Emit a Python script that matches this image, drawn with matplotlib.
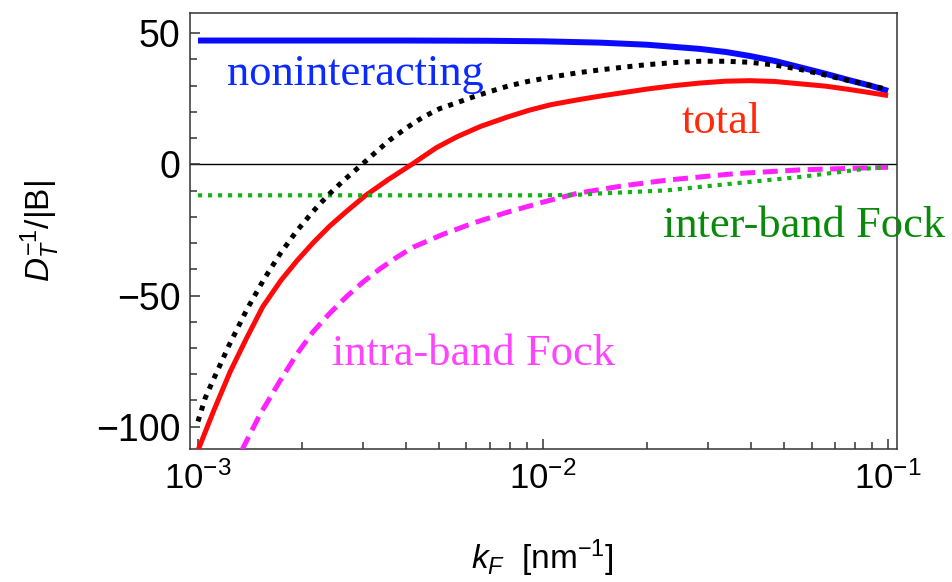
import matplotlib
matplotlib.use("Agg")
import matplotlib.pyplot as plt
from matplotlib.ticker import FixedLocator, LogLocator, NullFormatter, MultipleLocator

plt.rcParams['font.family'] = ['Liberation Sans', 'DejaVu Sans']
plt.rcParams['mathtext.fontset'] = 'custom'
plt.rcParams['mathtext.rm'] = 'Liberation Sans'
plt.rcParams['mathtext.it'] = 'Liberation Sans:italic'

# noninteracting
k_non = [0.001, 0.002, 0.004, 0.007, 0.01, 0.0146, 0.02, 0.0285, 0.034, 0.0398,
         0.047, 0.0556, 0.066, 0.0776, 0.089, 0.1]
v_non = [47.2, 47.2, 47.2, 47.1, 46.9, 46.4, 45.6, 44.0, 42.8, 41.3,
         39.4, 37.0, 34.5, 32.0, 30.0, 28.0]

# noninteracting + intra-band (black dotted)
k_blk = [0.001, 0.00105, 0.0011, 0.00123, 0.00139, 0.00155, 0.00173, 0.00193, 0.00215,
         0.00238, 0.00266, 0.00299, 0.00331, 0.0036, 0.00403, 0.00449, 0.00501, 0.00563,
         0.0063, 0.0070, 0.00794, 0.0091, 0.0105, 0.0126, 0.0146, 0.017, 0.02, 0.024,
         0.0285, 0.0339, 0.0398, 0.0468, 0.0556, 0.066, 0.0776, 0.089, 0.1]
v_blk = [-98, -89, -83, -69, -55, -44, -34.1, -25.5, -18.1,
         -11.8, -5.8, 0, 5.2, 9.3, 14.0, 18.0, 21.2, 23.5,
         25.8, 27.7, 29.9, 31.7, 33.2, 34.9, 36.0, 37.0, 38.0, 38.8,
         39.3, 39.3, 38.9, 37.9, 36.2, 34.0, 31.8, 30.1, 28.5]

# total
k_tot = [0.001, 0.00111, 0.00124, 0.00138, 0.00154, 0.00174, 0.00194, 0.00216, 0.00241,
         0.00269, 0.00305, 0.00355, 0.0042, 0.0049, 0.00563, 0.0066, 0.00787, 0.0091,
         0.0105, 0.0126, 0.0146, 0.017, 0.02, 0.024, 0.0285, 0.0339, 0.0398, 0.0468,
         0.0556, 0.066, 0.0776, 0.089, 0.1]
v_tot = [-109, -94, -79, -66.5, -54.3, -44.2, -36.6, -29.8, -23.5,
         -18, -12, -5.9, 0.3, 6.3, 10.5, 14.5, 18.0, 20.6,
         22.7, 24.6, 26.0, 27.3, 28.7, 30.0, 31.0, 31.7, 31.9, 31.6,
         30.7, 29.8, 28.5, 27.3, 26.2]

# intra-band Fock
k_intra = [0.00134, 0.00151, 0.00173, 0.00193, 0.00215, 0.0024, 0.0027, 0.003, 0.00337,
           0.00376, 0.0042, 0.0051, 0.0063, 0.0079, 0.01, 0.0126, 0.017, 0.0229,
           0.0355, 0.0556, 0.1]
v_intra = [-109, -95.5, -82.5, -72.5, -64, -57, -50.3, -45, -39.8,
           -35.5, -31.6, -26.8, -22.3, -18.2, -14.4, -11.0, -8.2, -6.0,
           -3.6, -2.1, -1.1]

# inter-band Fock
k_inter = [0.001, 0.005, 0.01, 0.0126, 0.0146, 0.017, 0.0229, 0.0356, 0.0556, 0.087, 0.1]
v_inter = [-11.8, -11.8, -11.8, -11.6, -11.1, -10.7, -9.9, -7.3, -4.8, -1.6, -1.0]

fig = plt.figure(figsize=(9.53, 5.82), dpi=100)
ax = fig.add_axes([0.1994, 0.2285, 0.7419, 0.7492])

ax.axhline(0, color='black', lw=1.0, zorder=1)
ax.plot(k_non, v_non, color='#0a0aff', lw=4.3, solid_capstyle='butt', zorder=3)
ax.plot(k_blk, v_blk, color='black', lw=3.6, linestyle=(0, (1, 1.3)), dash_capstyle='butt', zorder=4)
ax.plot(k_tot, v_tot, color='#ff0a0a', lw=3.6, solid_capstyle='butt', zorder=3)
ax.plot(k_intra, v_intra, color='#ff22ff', lw=3.6, linestyle=(0, (3, 1.5)), dash_capstyle='butt', zorder=3)
ax.plot(k_inter, v_inter, color='#18b018', lw=3.0, linestyle=(0, (1, 1.4)), dash_capstyle='butt', zorder=3)

ax.set_xscale('log')
ax.set_xlim(10 ** -3.023, 10 ** -0.974)
ax.set_ylim(-108.5, 57.7)

ax.xaxis.set_major_locator(FixedLocator([1e-3, 1e-2, 1e-1]))
ax.xaxis.set_minor_locator(LogLocator(base=10, subs=range(2, 10)))
ax.xaxis.set_minor_formatter(NullFormatter())
ax.set_xticklabels([r'$10^{-3}$', r'$10^{-2}$', r'$10^{-1}$'])
ax.yaxis.set_major_locator(FixedLocator([-100, -50, 0, 50]))
ax.yaxis.set_minor_locator(MultipleLocator(10))
ax.set_yticklabels(['\u2212100', '\u221250', '0', '50'])

ax.tick_params(which='both', direction='in', top=False, right=False, color='#333333', width=1.1)
ax.tick_params(which='major', length=7)
ax.tick_params(which='minor', length=5)
ax.tick_params(axis='y', which='major', labelsize=27, pad=7)
ax.tick_params(axis='x', which='major', labelsize=25, pad=9)
for s in ax.spines.values():
    s.set_color('#333333')
    s.set_linewidth(1.1)

ax.set_ylabel(r'$D_T^{-1}$/|B|', fontsize=24)
ax.yaxis.set_label_coords(-0.181, 0.5)
ax.set_xlabel(r'$k_F$  [nm$^{-1}$]', fontsize=24)
ax.xaxis.set_label_coords(0.498, -0.204)

serif = ['Liberation Serif', 'DejaVu Serif']
ax.text(0.052, 0.835, 'noninteracting', transform=ax.transAxes, fontsize=32,
        family=serif, color='#0a2aff', va='baseline')
ax.text(0.696, 0.725, 'total', transform=ax.transAxes, fontsize=32,
        family=serif, color='#ff2a0a', va='baseline')
ax.text(0.669, 0.486, 'inter-band Fock', transform=ax.transAxes, fontsize=32,
        family=serif, color='#0a8a0a', va='baseline', clip_on=False)
ax.text(0.201, 0.193, 'intra-band Fock', transform=ax.transAxes, fontsize=32,
        family=serif, color='#ff44ff', va='baseline')

fig.savefig('out.png', dpi=100)
